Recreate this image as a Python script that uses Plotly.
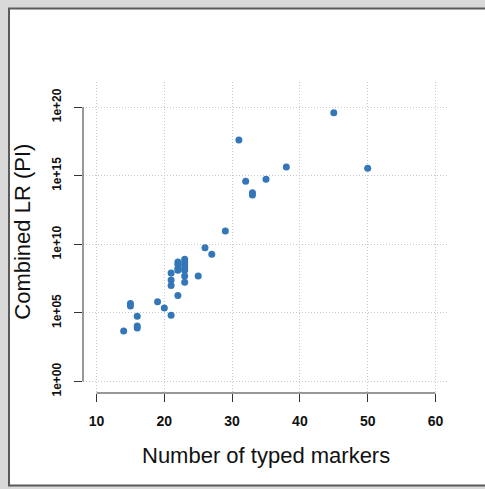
import math
import plotly.graph_objects as go

# ---- data ----
typed_markers = [31, 32, 33, 33, 35, 38, 29, 45, 50, 26, 27,
                 22, 22, 22, 22,
                 23, 23, 23, 23, 23, 23, 23,
                 21, 21, 21, 25, 22, 19, 20, 21,
                 15, 15, 16, 16, 16, 14]
combined_lr = [4.0e17, 4.0e14, 5.8e13, 3.9e13, 5.6e14, 4.3e15, 9.3e10, 4.0e19, 3.5e15, 5.6e9, 1.9e9,
               5.2e8, 3.4e8, 1.7e8, 1.3e8,
               8.1e8, 4.7e8, 3.0e8, 1.9e8, 1.3e8, 5.0e7, 1.7e7,
               8.3e7, 2.5e7, 1.0e7, 5.0e7, 1.9e6, 6.5e5, 2.3e5, 6.9e4,
               4.8e5, 3.2e5, 5.8e4, 1.1e4, 8.1e3, 4.9e3]
x_ticks = [10, 20, 30, 40, 50, 60]
y_tickvals = [1e0, 1e5, 1e10, 1e15, 1e20]
y_ticktext = ["1e+00", "1e+05", "1e+10", "1e+15", "1e+20"]
x_title = "Number of typed markers"
y_title = "Combined LR (PI)"

# ---- layout geometry ----
W, H = 485, 489
L, R, T, B = 83, 36, 82, 96
PW, PH = W - L - R, H - T - B
X_RANGE = [8, 62]
Y_RANGE = [-0.84, 21.84]  # log10 units

def px_x(px):
    return (px - L) / PW

def px_y(py):
    return (H - B - py) / PH

def data_x(v):
    return (v - X_RANGE[0]) / (X_RANGE[1] - X_RANGE[0])

def data_y(v):
    return (math.log10(v) - Y_RANGE[0]) / (Y_RANGE[1] - Y_RANGE[0])

FONT = "Liberation Sans, Arial, sans-serif"
AXIS_COLOR = "#333333"
GRID_DASH = "1px,2px"

fig = go.Figure()
fig.add_trace(go.Scatter(
    x=typed_markers, y=combined_lr, mode="markers",
    marker=dict(color="#3477b9", size=7, line=dict(width=0)),
    hoverinfo="skip", showlegend=False,
))

shapes = [
    # window frame
    dict(type="rect", xref="paper", yref="paper", layer="below",
         x0=px_x(9), x1=px_x(495), y0=px_y(485.5), y1=px_y(8.5),
         fillcolor="white", line=dict(color="#5a5a5a", width=2)),
    # R-style axis lines spanning first..last tick
    dict(type="line", xref="paper", yref="paper",
         x0=data_x(x_ticks[0]), x1=data_x(x_ticks[-1]), y0=0, y1=0,
         line=dict(color=AXIS_COLOR, width=1)),
    dict(type="line", xref="paper", yref="paper",
         x0=0, x1=0, y0=data_y(y_tickvals[0]), y1=data_y(y_tickvals[-1]),
         line=dict(color=AXIS_COLOR, width=1)),
]

annotations = [
    dict(text=x_title, xref="paper", yref="paper", x=0.5, y=px_y(455),
         showarrow=False, xanchor="center", yanchor="middle",
         font=dict(family=FONT, size=22, color="#111111")),
    dict(text=y_title, xref="paper", yref="paper", x=px_x(21.7), y=px_y(232),
         showarrow=False, xanchor="center", yanchor="middle", textangle=-90,
         font=dict(family=FONT, size=22, color="#111111")),
]

fig.update_layout(
    width=W, height=H,
    margin=dict(l=L, r=R, t=T, b=B, pad=0),
    paper_bgcolor="#d9d9d9",
    plot_bgcolor="rgba(0,0,0,0)",
    shapes=shapes,
    annotations=annotations,
    xaxis=dict(
        range=X_RANGE, tickvals=x_ticks, ticktext=[str(t) for t in x_ticks],
        showline=False, zeroline=False,
        showgrid=True, gridcolor="#c8c8c8", griddash=GRID_DASH, gridwidth=1,
        ticks="outside", ticklen=8, tickcolor=AXIS_COLOR, tickwidth=1,
        tickfont=dict(family=FONT, size=14, color="#111111", weight="bold"),
        ticklabelstandoff=7,
    ),
    yaxis=dict(
        type="log", range=Y_RANGE, tickvals=y_tickvals, ticktext=y_ticktext,
        showline=False, zeroline=False,
        showgrid=True, gridcolor="#c8c8c8", griddash=GRID_DASH, gridwidth=1,
        ticks="outside", ticklen=8, tickcolor=AXIS_COLOR, tickwidth=1,
        tickangle=-90,
        tickfont=dict(family=FONT, size=12, color="#111111", weight="bold"),
        ticklabelstandoff=8,
    ),
)

fig.write_html(
    "out.html",
    config={"displayModeBar": False},
    post_script="document.body.style.margin='0';document.body.style.overflow='hidden';",
)
